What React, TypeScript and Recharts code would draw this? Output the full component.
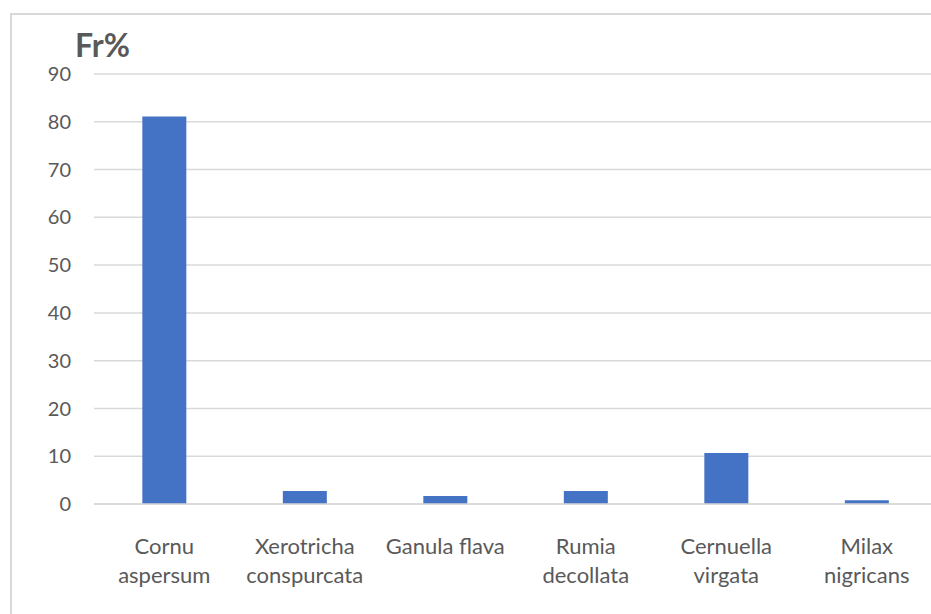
import { BarChart, Bar, XAxis, YAxis, CartesianGrid } from "recharts"

const species = [
  "Cornu aspersum",
  "Xerotricha conspurcata",
  "Ganula flava",
  "Rumia decollata",
  "Cernuella virgata",
  "Milax nigricans",
]
// each label split in its two printed lines
const labelLines: string[][] = [
  ["Cornu", "aspersum"],
  ["Xerotricha", "conspurcata"],
  ["Ganula flava"],
  ["Rumia", "decollata"],
  ["Cernuella", "virgata"],
  ["Milax", "nigricans"],
]
const frequency = [81.1, 2.7, 1.7, 2.7, 10.7, 0.8]
const yTicks = [0, 10, 20, 30, 40, 50, 60, 70, 80, 90]

const data = species.map((name, i) => ({ name, fr: frequency[i] }))

const FONT = "Lato, 'Open Sans', sans-serif"
const GREY = "#595959"

function CategoryTick(props: any) {
  const { x, y, index } = props
  const lines = labelLines[index] ?? [props.payload.value]
  return (
    <g>
      {lines.map((line, i) => (
        <text
          key={i}
          x={x}
          y={y + 33 + i * 29}
          textAnchor="middle"
          dominantBaseline="central"
          fontSize={22}
          fontFamily={FONT}
          fill={GREY}
        >
          {line}
        </text>
      ))}
    </g>
  )
}

export default function App() {
  return (
    <div style={{ position: "absolute", left: 0, top: 0, width: 931, height: 614, background: "#fff", overflow: "hidden" }}>
      <style>{"html,body{margin:0;overflow:hidden}"}</style>
      <div
        style={{
          position: "absolute",
          left: 10,
          top: 13,
          width: 960,
          height: 640,
          border: "2px solid #d9d9d9",
          boxSizing: "border-box",
        }}
      />
      <div
        style={{
          position: "absolute",
          left: 75,
          top: 26,
          fontFamily: FONT,
          fontWeight: 700,
          fontSize: 32,
          color: GREY,
          lineHeight: "38px",
        }}
      >
        Fr%
      </div>
      <div style={{ position: "absolute", left: 0, top: 0 }}>
        <BarChart
          width={940}
          height={614}
          data={data}
          margin={{ top: 74, right: 3, bottom: 10, left: 0 }}
          barCategoryGap="34.4%"
        >
          <CartesianGrid vertical={false} stroke="#d9d9d9" strokeWidth={1.5} />
          <XAxis
            dataKey="name"
            interval={0}
            height={100}
            tickLine={false}
            axisLine={{ stroke: "#d9d9d9", strokeWidth: 1.5 }}
            tick={<CategoryTick />}
          />
          <YAxis
            width={94}
            domain={[0, 90]}
            ticks={yTicks}
            axisLine={false}
            tickLine={false}
            tickSize={0}
            tickMargin={23}
            tick={{ fontSize: 20, fontFamily: FONT, fill: GREY }}
          />
          <Bar dataKey="fr" fill="#4472c4" isAnimationActive={false} />
        </BarChart>
      </div>
    </div>
  )
}
